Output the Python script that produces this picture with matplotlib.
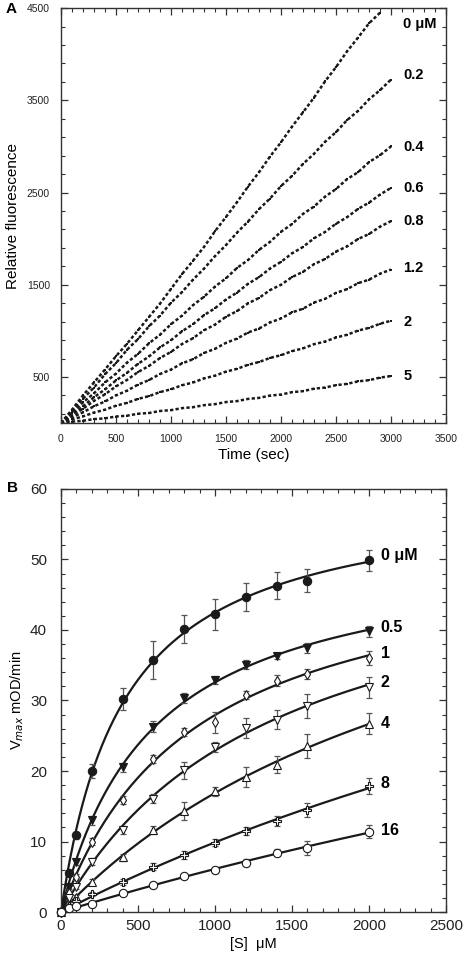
import numpy as np
import matplotlib
matplotlib.use("Agg")
import matplotlib.pyplot as plt
from matplotlib.ticker import MultipleLocator, FixedLocator

plt.rcParams['font.family'] = ['Liberation Sans', 'DejaVu Sans']

# ---- panel A: fluorescence traces, read every 100 s ----
time_s = list(range(0, 3100, 100))
traces = {
    '0 \u03bcM': [0, 145, 300, 440, 580, 725, 860, 1005, 1150, 1295, 1455, 1615, 1760, 1910, 2080,
                  2235, 2395, 2565, 2720, 2890, 3045, 3215, 3370, 3530, 3705, 3860, 4030, 4180, 4335, 4450],
    '0.2': [0, 130, 265, 385, 530, 650, 795, 910, 1050, 1165, 1305, 1420, 1555, 1675, 1810, 1930,
            2065, 2185, 2320, 2435, 2570, 2680, 2810, 2920, 3050, 3155, 3285, 3385, 3510, 3610, 3725],
    '0.4': [0, 105, 225, 322, 440, 537, 655, 750, 865, 958, 1072, 1165, 1278, 1370, 1480, 1570,
            1682, 1768, 1878, 1965, 2075, 2158, 2268, 2348, 2455, 2538, 2645, 2720, 2830, 2905, 3000],
    '0.6': [0, 95, 182, 280, 365, 462, 545, 642, 722, 820, 898, 995, 1072, 1170, 1245, 1340,
            1415, 1510, 1582, 1676, 1748, 1840, 1910, 2004, 2072, 2162, 2232, 2322, 2390, 2478, 2550],
    '0.8': [0, 82, 156, 241, 312, 398, 468, 553, 620, 705, 772, 857, 920, 1006, 1068, 1153,
            1214, 1298, 1357, 1442, 1500, 1583, 1640, 1723, 1779, 1860, 1915, 1996, 2050, 2130, 2190],
    '1.2': [0, 62, 116, 182, 234, 300, 351, 417, 466, 532, 580, 647, 692, 760, 805, 870,
            916, 982, 1025, 1091, 1134, 1200, 1240, 1307, 1347, 1412, 1452, 1517, 1555, 1620, 1665],
    '2': [0, 39, 72, 114, 145, 188, 219, 262, 292, 336, 366, 410, 440, 484, 514, 558,
          588, 632, 662, 706, 736, 780, 810, 855, 884, 928, 957, 1003, 1032, 1077, 1110],
    '5': [0, 15, 25, 43, 51, 71, 80, 101, 109, 131, 140, 162, 172, 194, 205, 228,
          238, 262, 273, 298, 309, 335, 346, 373, 385, 411, 425, 452, 465, 493, 510],
}
trace_label_y = [4330, 3770, 2990, 2545, 2195, 1685, 1100, 510]

# ---- panel B: Vmax vs substrate ----
subs = np.array([0, 50, 100, 200, 400, 600, 800, 1000, 1200, 1400, 1600, 2000])
inhib_labels = ['0 \u03bcM', '0.5', '1', '2', '4', '8', '16']
v0 = [0, 5.6, 10.9, 20.0, 30.2, 35.7, 40.1, 42.2, 44.7, 46.3, 47.0, 49.9]
v05 = [0, 3.6, 7.1, 13.0, 20.5, 26.3, 30.4, 32.9, 35.1, 36.3, 37.4, 39.8]
v1 = [0, 2.7, 5.0, 10.0, 15.9, 21.7, 25.5, 26.9, 30.8, 32.8, 33.8, 36.0]
v2 = [0, 2.0, 3.6, 7.1, 11.6, 16.1, 20.1, 23.4, 26.1, 27.3, 29.2, 31.9]
v4 = [0, 1.0, 2.1, 4.3, 7.75, 11.6, 14.3, 17.1, 19.2, 20.9, 23.5, 26.7]
v8 = [0, 0.8, 1.5, 2.6, 4.3, 6.4, 8.1, 9.8, 11.5, 12.9, 14.5, 17.9]
v16 = [0, 0.5, 0.8, 1.2, 2.65, 3.9, 5.15, 6.0, 7.0, 8.4, 9.1, 11.4]
e0 = [0, 0.4, 0.5, 1.0, 1.6, 2.7, 2.0, 2.2, 2.0, 1.9, 1.6, 1.5]
e05 = [0, 0.3, 0.4, 0.6, 0.6, 0.8, 0.7, 0.6, 0.6, 0.4, 0.7, 0.8]
e1 = [0, 0.3, 0.4, 0.5, 0.6, 0.6, 0.6, 1.5, 0.6, 0.8, 0.7, 1.0]
e2 = [0, 0.3, 0.4, 0.5, 0.6, 0.7, 1.2, 0.7, 1.35, 1.3, 1.65, 1.5]
e4 = [0, 0.2, 0.3, 0.4, 0.5, 0.6, 1.3, 0.6, 1.4, 1.2, 1.7, 1.5]
e8 = [0, 0.2, 0.2, 0.3, 0.4, 0.5, 0.6, 0.5, 0.6, 0.7, 1.0, 1.1]
e16 = [0, 0.1, 0.2, 0.3, 0.3, 0.4, 0.4, 0.4, 0.5, 0.5, 0.95, 0.95]
rates = [v0, v05, v1, v2, v4, v8, v16]
errs = [e0, e05, e1, e2, e4, e8, e16]
markers = ['o', 'v', 'd', 'v', '^', 'P', 'o']
filled = [True, True, False, False, False, False, False]
rate_label_y = [50.5, 40.3, 36.6, 32.5, 26.8, 18.2, 11.5]


def mm_fit(s, v):
    # least-squares Michaelis-Menten fit, grid over Km
    s = np.asarray(s, float)
    v = np.asarray(v, float)
    best = None
    for km in np.geomspace(20, 50000, 3000):
        f = s / (km + s)
        vm = (f * v).sum() / (f * f).sum()
        sse = ((vm * f - v) ** 2).sum()
        if best is None or sse < best[0]:
            best = (sse, vm, km)
    return best[1], best[2]


def style_axes(ax, fs, pad):
    for sp in ax.spines.values():
        sp.set_color('#333333')
        sp.set_linewidth(1.0)
    ax.tick_params(which='both', direction='in', top=True, right=True,
                   colors='#333333', labelcolor='#222222', labelsize=fs, pad=pad)
    ax.tick_params(which='major', length=5, width=0.9)
    ax.tick_params(which='minor', length=3, width=0.8)


fig = plt.figure(figsize=(4.69, 9.55), dpi=100)

# panel A
axA = fig.add_axes([0.130, 0.557, 0.821, 0.4345])
for (name, vals), ly in zip(traces.items(), trace_label_y):
    t = time_s[:len(vals)]
    axA.plot(t, vals, ls=(0, (1.3, 0.9)), lw=1.8, color='#1a1a1a')
    axA.plot(t, vals, 's', ms=1.8, color='#1a1a1a', mew=0)
    axA.text(3110, ly, name, fontsize=10.5, fontweight='bold', va='center', ha='left')
axA.set_xlim(0, 3500)
axA.set_ylim(0, 4500)
axA.xaxis.set_major_locator(MultipleLocator(500))
axA.xaxis.set_minor_locator(MultipleLocator(100))
axA.yaxis.set_major_locator(FixedLocator([500, 1500, 2500, 3500, 4500]))
axA.yaxis.set_minor_locator(FixedLocator(list(range(100, 4500, 200))))
style_axes(axA, 7.5, 8)
axA.set_xlabel('Time (sec)', fontsize=11, labelpad=3)
axA.set_ylabel('Relative fluorescence', fontsize=11, labelpad=5)
fig.text(0.012, 0.991, 'A', fontsize=11, fontweight='bold', va='center')

# panel B
axB = fig.add_axes([0.130, 0.045, 0.821, 0.443])
s_fine = np.linspace(0, 2000, 400)
for name, v, e, m, fl, ly in zip(inhib_labels, rates, errs, markers, filled, rate_label_y):
    vm, km = mm_fit(subs, v)
    axB.plot(s_fine, vm * s_fine / (km + s_fine), color='#1a1a1a', lw=1.6, zorder=2)
    axB.errorbar(subs, v, yerr=e, fmt='none', ecolor='#555555', elinewidth=0.9,
                 capsize=2.5, capthick=0.9, zorder=3)
    ms = 6 if m == 'o' else 5.5
    axB.plot(subs, v, m, ms=ms, mfc='#1a1a1a' if fl else 'white', mec='#1a1a1a',
             mew=0.8, zorder=4, clip_on=False)
    axB.text(2075, ly, name, fontsize=11.5, fontweight='bold', va='center', ha='left')
axB.set_xlim(0, 2500)
axB.set_ylim(0, 60)
axB.xaxis.set_major_locator(MultipleLocator(500))
axB.xaxis.set_minor_locator(MultipleLocator(100))
axB.yaxis.set_major_locator(MultipleLocator(10))
axB.yaxis.set_minor_locator(MultipleLocator(2))
style_axes(axB, 11, 5)
axB.tick_params(axis='y', pad=10)
axB.set_xlabel('[S]  \u03bcM', fontsize=10.5, labelpad=3)
axB.set_ylabel('V$_{max}$ mOD/min', fontsize=10.5, labelpad=3)
fig.text(0.015, 0.489, 'B', fontsize=11, fontweight='bold', va='center')

fig.savefig('out.png', dpi=100)
